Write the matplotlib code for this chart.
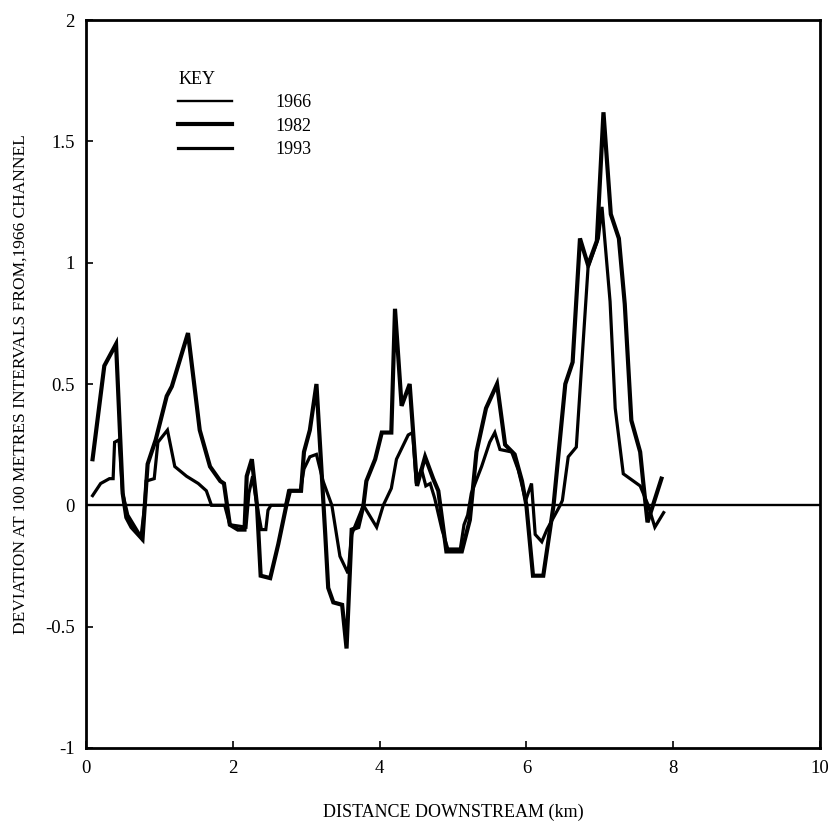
import matplotlib
matplotlib.use("Agg")
import matplotlib.pyplot as plt
from matplotlib.lines import Line2D

plt.rcParams['font.family'] = ['Liberation Serif', 'DejaVu Serif']

# 1966 reference channel (zero deviation)
x_1966 = [0.0, 10.0]
y_1966 = [0.0, 0.0]

# 1982 channel deviation
x_1982 = [0.09, 0.25, 0.41, 0.50, 0.55, 0.62, 0.77, 0.84, 0.95, 1.10, 1.17, 1.39,
          1.55, 1.69, 1.83, 1.88, 1.96, 2.07, 2.16, 2.19, 2.26, 2.33, 2.38, 2.51,
          2.62, 2.73, 2.78, 2.93, 2.97, 3.05, 3.14, 3.26, 3.30, 3.37, 3.49, 3.55,
          3.62, 3.71, 3.78, 3.82, 3.94, 4.03, 4.16, 4.21, 4.30, 4.41, 4.51, 4.62,
          4.73, 4.80, 4.91, 5.12, 5.23, 5.32, 5.45, 5.60, 5.71, 5.84, 5.94, 6.00,
          6.09, 6.23, 6.37, 6.53, 6.63, 6.73, 6.84, 6.96, 7.05, 7.15, 7.26, 7.34,
          7.43, 7.55, 7.59, 7.65, 7.84]
y_1982 = [0.19, 0.575, 0.665, 0.05, -0.05, -0.09, -0.14, 0.17, 0.27, 0.45, 0.49, 0.71,
          0.31, 0.16, 0.10, 0.09, -0.08, -0.10, -0.10, 0.12, 0.19, 0.0, -0.29, -0.30,
          -0.16, 0.0, 0.06, 0.06, 0.22, 0.31, 0.50, -0.12, -0.34, -0.40, -0.41, -0.59,
          -0.10, -0.09, 0.0, 0.10, 0.19, 0.30, 0.30, 0.81, 0.41, 0.50, 0.08, 0.20,
          0.11, 0.06, -0.19, -0.19, -0.06, 0.22, 0.40, 0.50, 0.25, 0.21, 0.10, 0.0,
          -0.29, -0.29, 0.0, 0.50, 0.59, 1.10, 0.99, 1.09, 1.62, 1.20, 1.10, 0.83,
          0.35, 0.22, 0.10, -0.07, 0.11]

# 1993 channel deviation
x_1993 = [0.09, 0.20, 0.32, 0.37, 0.39, 0.45, 0.50, 0.57, 0.75, 0.80, 0.82, 0.93,
          0.98, 1.11, 1.21, 1.37, 1.53, 1.64, 1.71, 1.89, 1.96, 2.18, 2.22, 2.27,
          2.33, 2.39, 2.45, 2.48, 2.52, 2.72, 2.76, 2.92, 2.97, 3.05, 3.14, 3.23,
          3.35, 3.46, 3.57, 3.62, 3.78, 3.96, 4.05, 4.16, 4.23, 4.39, 4.45, 4.50,
          4.57, 4.63, 4.69, 4.75, 4.85, 4.93, 5.10, 5.15, 5.20, 5.25, 5.39, 5.50,
          5.57, 5.64, 5.80, 5.89, 5.99, 6.07, 6.12, 6.21, 6.28, 6.46, 6.49, 6.57,
          6.68, 6.84, 6.98, 7.03, 7.14, 7.21, 7.32, 7.55, 7.66, 7.75, 7.87]
y_1993 = [0.04, 0.09, 0.11, 0.11, 0.26, 0.27, 0.05, -0.04, -0.13, 0.0, 0.10, 0.11,
          0.26, 0.31, 0.16, 0.12, 0.09, 0.06, 0.0, 0.0, -0.08, -0.09, 0.05, 0.12,
          0.0, -0.10, -0.10, -0.02, 0.0, 0.0, 0.06, 0.06, 0.15, 0.20, 0.21, 0.10,
          0.0, -0.21, -0.28, -0.12, 0.0, -0.09, 0.0, 0.07, 0.19, 0.29, 0.30, 0.09,
          0.15, 0.08, 0.09, 0.03, -0.10, -0.18, -0.18, -0.08, -0.04, 0.05, 0.16, 0.26,
          0.30, 0.23, 0.22, 0.145, 0.02, 0.09, -0.12, -0.15, -0.10, 0.0, 0.02, 0.20,
          0.24, 0.98, 1.10, 1.23, 0.84, 0.40, 0.13, 0.08, 0.0, -0.09, -0.03]

labels = ['1966', '1982', '1993']
x_ticks = [0, 2, 4, 6, 8, 10]
y_ticks = [-1, -0.5, 0, 0.5, 1, 1.5, 2]
y_tick_labels = ['-1', '-0.5', '0', '0.5', '1', '1.5', '2']

fig = plt.figure(figsize=(8.37, 8.36), dpi=100)
ax = fig.add_axes([0.1027, 0.1053, 0.877, 0.8707])

lw = {'1966': 1.7, '1982': 3.0, '1993': 2.3}
ax.plot(x_1966, y_1966, color='black', lw=lw['1966'], solid_capstyle='butt')
ax.plot(x_1982, y_1982, color='black', lw=lw['1982'], solid_joinstyle='miter')
ax.plot(x_1993, y_1993, color='black', lw=lw['1993'], solid_joinstyle='miter')

ax.set_xlim(0, 10)
ax.set_ylim(-1, 2)
ax.set_xticks(x_ticks)
ax.set_xticklabels([str(t) for t in x_ticks])
ax.set_yticks(y_ticks)
ax.set_yticklabels(y_tick_labels)
ax.tick_params(direction='in', length=5, width=1.2, labelsize=13.5)
ax.tick_params(axis='x', pad=9)
ax.tick_params(axis='y', pad=8)
for s in ax.spines.values():
    s.set_linewidth(2.0)

ax.set_xlabel('DISTANCE DOWNSTREAM (km)', fontsize=13, labelpad=19)
ax.set_ylabel('DEVIATION AT 100 METRES INTERVALS FROM,1966 CHANNEL', fontsize=12.5, labelpad=12)

handles = [Line2D([], [], color='black', lw=lw[l]) for l in labels]
leg = ax.legend(handles, labels, title='KEY', frameon=False, loc='upper left',
                bbox_to_anchor=(0.116, 0.94), fontsize=13, title_fontsize=13,
                handlelength=3.0, handletextpad=2.4, labelspacing=0.35,
                borderaxespad=0)
leg._legend_box.align = 'left'

fig.savefig('out.png', dpi=100)
